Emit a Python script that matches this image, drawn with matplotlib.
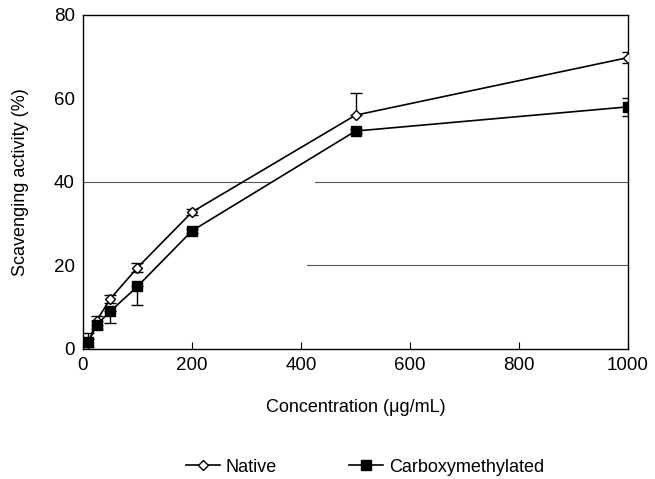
import matplotlib
matplotlib.use('Agg')
import matplotlib.pyplot as plt
import numpy as np

plt.rcParams['font.family'] = ['Liberation Sans', 'DejaVu Sans']

conc = [10, 25, 50, 100, 200, 500, 1000]
native = [1.5, 6.8, 12.0, 19.5, 32.8, 56.0, 69.8]
native_err_lo = [1.0, 1.0, 1.0, 1.0, 0.8, 0.0, 1.4]
native_err_hi = [1.0, 1.0, 1.0, 1.0, 0.8, 5.3, 1.4]
carboxy = [1.6, 5.8, 9.0, 15.0, 28.3, 52.2, 58.0]
carboxy_err_lo = [2.2, 1.0, 2.7, 4.4, 0.5, 0.5, 2.2]
carboxy_err_hi = [2.2, 1.0, 0.0, 0.0, 0.5, 0.5, 2.0]

fig = plt.figure(figsize=(6.55, 4.79), dpi=100)
ax = fig.add_axes([0.1267, 0.2714, 0.8321, 0.6973])

# partial grid lines as in the original
ax.axhline(40, xmin=0, xmax=0.343, color='#555555', lw=0.8, zorder=0)
ax.axhline(40, xmin=0.426, xmax=1, color='#555555', lw=0.8, zorder=0)
ax.axhline(20, xmin=0.411, xmax=1, color='#555555', lw=0.8, zorder=0)

ax.errorbar(conc, native, yerr=[native_err_lo, native_err_hi], color='black', lw=1.2,
            marker='D', ms=5.5, mfc='white', mec='black', mew=1.0, capsize=4, elinewidth=1.0,
            label='Native', zorder=3)
ax.errorbar(conc, carboxy, yerr=[carboxy_err_lo, carboxy_err_hi], color='black', lw=1.2,
            marker='s', ms=7, mfc='black', mec='black', capsize=4, elinewidth=1.0,
            label='Carboxymethylated', zorder=3)

ax.set_xlim(0, 1000)
ax.set_ylim(0, 80)
ax.set_xticks([0, 200, 400, 600, 800, 1000])
ax.set_yticks([0, 20, 40, 60, 80])
ax.tick_params(axis='x', direction='in', length=5, labelsize=13.5, pad=6)
ax.tick_params(axis='y', length=0, labelsize=13.5, pad=6)
for s in ax.spines.values():
    s.set_linewidth(1.0)

ax.set_xlabel('Concentration (\u03bcg/mL)', fontsize=13, labelpad=18)
ax.set_ylabel('Scavenging activity (%)', fontsize=13, labelpad=18)

h, l = ax.get_legend_handles_labels()
h = [hh[0] for hh in h]
h[0].set_markersize(5)
fig.legend(h, l, loc='center', bbox_to_anchor=(0.557, 0.025), ncol=2, frameon=False,
           fontsize=13, handlelength=1.9, handletextpad=0.3, columnspacing=4.0)

fig.savefig('out.png', dpi=100)
